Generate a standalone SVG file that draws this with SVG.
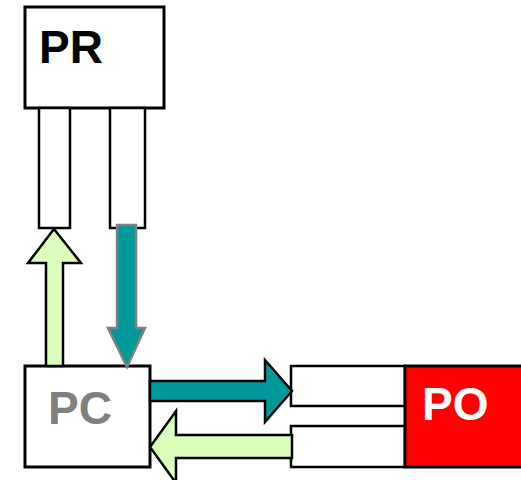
<svg xmlns="http://www.w3.org/2000/svg" width="521" height="480" viewBox="0 0 521 480">
<style>
.box{fill:#fff;stroke:#000;stroke-width:3}
.stub{fill:#fff;stroke:#000;stroke-width:2.5}
.lbl{font-family:"Liberation Sans",Arial,sans-serif;font-weight:bold;font-size:46px}
.green{fill:#DDFFBB;stroke:#000;stroke-width:2.5;stroke-linejoin:miter}
.teal{fill:#009999;stroke:#000;stroke-width:2.5}
.tealg{fill:#009999;stroke:#808080;stroke-width:2.5}
</style>
<rect width="521" height="480" fill="#fff"/>
<g id="PR">
<rect class="box" x="25" y="7" width="139" height="101"/>
<text class="lbl" x="39" y="63" fill="#000">PR</text>
</g>
<g id="PR_in">
<rect class="stub" x="39" y="108" width="31" height="120"/>
</g>
<g id="PR_out">
<rect class="stub" x="110" y="108" width="35" height="120"/>
</g>
<g id="PC">
<rect class="box" x="25" y="366" width="125" height="101"/>
<text class="lbl" x="48" y="424" fill="#808080">PC</text>
</g>
<g id="PO_in">
<rect class="stub" x="291" y="366" width="114" height="40"/>
</g>
<g id="PO_out">
<rect class="stub" x="291" y="426" width="114" height="41"/>
</g>
<g id="PO">
<rect x="405" y="366" width="118" height="101" fill="#FF0000" stroke="#000" stroke-width="3"/>
<text class="lbl" x="422" y="420" fill="#fff">PO</text>
</g>
<g id="connectors">
<polygon class="green" points="46,366 46,263 28,263 54,229 81,263 63,263 63,366"/>
<polygon class="tealg" points="117,225 136,225 136,328 145,328 127,367 108,328 117,328"/>
<polygon class="teal" points="150,381 265,381 265,360 292,391 265,422 265,401 150,401"/>
<polygon class="green" points="292,435 176,435 176,411 150,447 176,483 176,458 292,458"/>
</g>
</svg>
